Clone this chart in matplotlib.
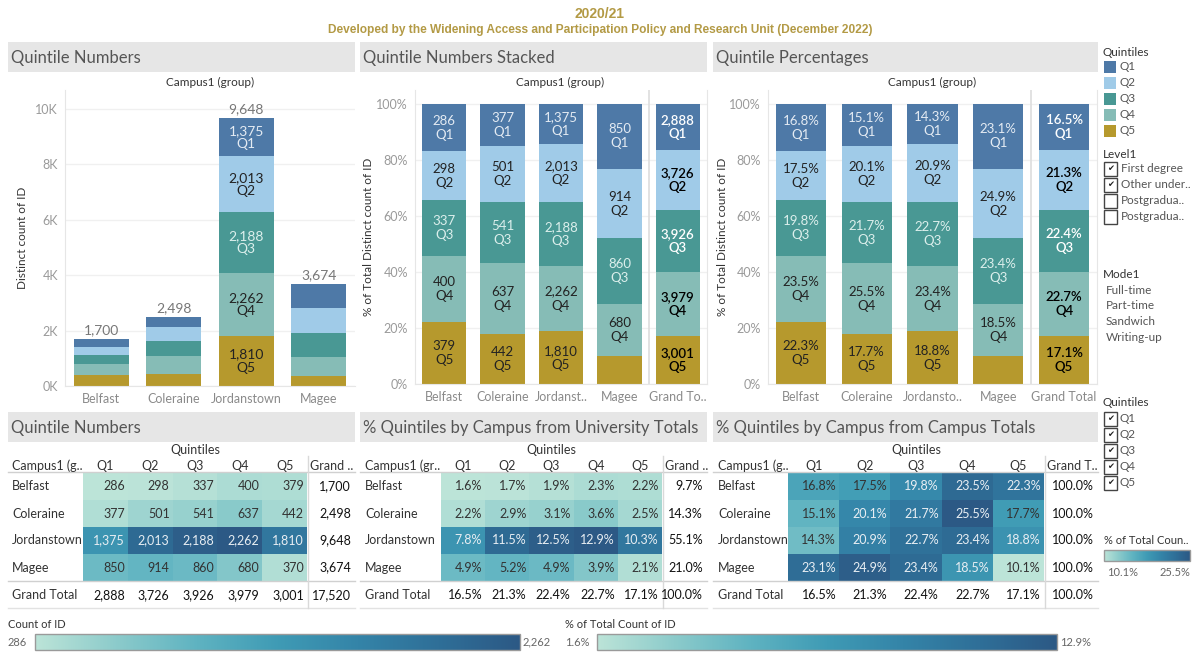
import numpy as np
import matplotlib
matplotlib.use("Agg")
import matplotlib.pyplot as plt
from matplotlib.colors import LinearSegmentedColormap, Normalize
from matplotlib.patches import Rectangle

plt.rcParams['font.family'] = ['Lato', 'DejaVu Sans']

W, H = 1195, 653

# Data
campuses = ['Belfast', 'Coleraine', 'Jordanstown', 'Magee']
quintiles = ['Q1', 'Q2', 'Q3', 'Q4', 'Q5']
q1 = [286, 377, 1375, 850]
q2 = [298, 501, 2013, 914]
q3 = [337, 541, 2188, 860]
q4 = [400, 637, 2262, 680]
q5 = [379, 442, 1810, 370]
campus_totals = [1700, 2498, 9648, 3674]
quintile_totals = [2888, 3726, 3926, 3979, 3001]
grand_total = 17520

level_items = ['First degree', 'Other under..', 'Postgradua..', 'Postgradua..']
level_checked = [True, True, False, False]
mode_items = ['Full-time', 'Part-time', 'Sandwich', 'Writing-up']

q_colors = ['#4e79a7', '#a0cbe8', '#499894', '#86bcb6', '#b6992d']
q_text = ['#e4ebf3', '#222222', '#dcefec', '#222222', '#222222']
q_text_bold = ['#ffffff', '#000000', '#ffffff', '#000000', '#000000']

cmap = LinearSegmentedColormap.from_list(
    'blueteal', ['#bce4d8', '#8ccbcb', '#5fb3c1', '#3f9bb5', '#3484a8', '#2f6f98', '#2c5985'])

counts = np.array([q1, q2, q3, q4, q5]).T          # campus x quintile
pct_campus = counts / np.array(campus_totals)[:, None] * 100
pct_univ = counts / grand_total * 100
gt_pct = np.array(quintile_totals) / grand_total * 100

fig = plt.figure(figsize=(W / 100, H / 100), dpi=100)

ov = fig.add_axes([0, 0, 1, 1])
ov.set_xlim(0, W)
ov.set_ylim(H, 0)
ov.axis('off')


def px_axes(x, y, w, h):
    return fig.add_axes([x / W, 1 - (y + h) / H, w / W, h / H])


# titles
gold = '#b39a45'
ov.text(600, 14, '2020/21', ha='center', va='center', fontsize=10, fontweight='bold',
        color=gold, family=['Liberation Sans'])
ov.text(600, 30, 'Developed by the Widening Access and Participation Policy and Research Unit (December 2022)',
        ha='center', va='center', fontsize=8.6, fontweight='bold', color=gold,
        family=['Liberation Sans'])

# panel headers
headers = [(8, 42, 347, 'Quintile Numbers'), (360, 42, 347, 'Quintile Numbers Stacked'),
           (713, 42, 385, 'Quintile Percentages'), (8, 412, 347, 'Quintile Numbers'),
           (360, 412, 347, '% Quintiles by Campus from University Totals'),
           (713, 412, 385, '% Quintiles by Campus from Campus Totals')]
for hx, hy, hw, ht in headers:
    ov.add_patch(Rectangle((hx, hy), hw, 30, color='#e6e6e6', lw=0))
    ov.text(hx + 3, hy + 16, ht, ha='left', va='center', fontsize=12, color='#555555')

for cx in [210, 560, 932]:
    ov.text(cx, 82, 'Campus1 (group)', ha='center', va='center', fontsize=8.5, color='#333333')


def style_bar_axes(ax, labels, yticks, yticklabels, ylabel, label_x):
    ax.set_facecolor('none')
    for s in ['top', 'right']:
        ax.spines[s].set_visible(False)
    ax.spines['left'].set_color('#e6e6e6')
    ax.spines['bottom'].set_color('#e6e6e6')
    ax.set_xticks(range(len(labels)))
    ax.set_xticklabels(labels, color='#8a8a8a', fontsize=9)
    ax.set_yticks(yticks)
    ax.set_yticklabels(yticklabels, color='#9a9a9a', fontsize=9)
    ax.tick_params(length=0, pad=5)
    ax.grid(axis='y', color='#f0f0f0', lw=1)
    ax.set_axisbelow(True)
    ax.set_ylabel(ylabel, fontsize=8.5, color='#333333')
    ax.yaxis.set_label_coords(label_x, 0.5)


# Chart 1: counts
ax1 = px_axes(65, 90, 290, 296)
x = np.arange(len(campuses))
bottom = np.zeros(len(campuses))
for qi in reversed(range(5)):
    vals = counts[:, qi]
    ax1.bar(x, vals, 0.76, bottom=bottom, color=q_colors[qi], lw=0)
    for ci in range(len(campuses)):
        if vals[ci] > 1000:
            ax1.text(x[ci], bottom[ci] + vals[ci] / 2, f'{vals[ci]:,}\n{quintiles[qi]}',
                     ha='center', va='center', fontsize=10, color=q_text[qi], linespacing=1.15)
    bottom += vals
for ci in range(len(campuses)):
    ax1.annotate(f'{campus_totals[ci]:,}', (x[ci], campus_totals[ci]), xytext=(0, 2),
                 textcoords='offset points', ha='center', va='bottom', fontsize=10, color='#777777')
ax1.set_xlim(-0.5, 3.5)
ax1.set_ylim(0, 10670)
style_bar_axes(ax1, campuses, np.arange(0, 10001, 2000),
               [f'{v // 1000}K' for v in range(0, 10001, 2000)],
               'Distinct count of ID', (28 - 65) / 290)


def pct_chart(ax, labels, label_fn, ylabel_x):
    heights = np.vstack([pct_campus, gt_pct[None, :]])
    raw = np.vstack([counts, np.array(quintile_totals)[None, :]])
    xs = np.arange(heights.shape[0])
    bot = np.zeros(len(xs))
    for qi in reversed(range(5)):
        vals = heights[:, qi]
        ax.bar(xs, vals, 0.76, bottom=bot, color=q_colors[qi], lw=0)
        for ci in range(len(xs)):
            if vals[ci] > 12:
                gt = ci == len(xs) - 1
                ax.text(xs[ci], bot[ci] + vals[ci] / 2,
                        f'{label_fn(raw[ci, qi], vals[ci])}\n{quintiles[qi]}',
                        ha='center', va='center', fontsize=9.5, linespacing=1.2,
                        color=q_text_bold[qi] if gt else q_text[qi],
                        fontweight='semibold' if gt else 'normal')
        bot += vals
    ax.axvline(len(xs) - 1.5, color='#dddddd', lw=1.2)
    ax.set_xlim(-0.5, len(xs) - 0.5)
    ax.set_ylim(0, 105)
    style_bar_axes(ax, labels, np.arange(0, 101, 20), [f'{v}%' for v in range(0, 101, 20)],
                   '% of Total Distinct count of ID', ylabel_x)
    ax.spines['right'].set_visible(True)
    ax.spines['right'].set_color('#e6e6e6')


ax2 = px_axes(415, 90, 292, 294)
pct_chart(ax2, ['Belfast', 'Coleraine', 'Jordanst..', 'Magee', 'Grand To..'],
          lambda c, p: f'{c:,}', (374 - 415) / 292)
ax3 = px_axes(768, 90, 329, 294)
pct_chart(ax3, ['Belfast', 'Coleraine', 'Jordansto..', 'Magee', 'Grand Total'],
          lambda c, p: f'{p:.1f}%', (728 - 768) / 329)


# Tables
def draw_table(left, label_x, cl, cr, right, values, fmt, gt_col, gt_row, gt_corner,
               hdr_campus, hdr_grand):
    xe = np.linspace(cl, cr, 6)
    ye = np.linspace(473, 581, 5)
    norm = Normalize(values.min(), values.max())
    ov.pcolormesh(xe, ye, values, cmap=cmap, norm=norm, shading='flat')
    ov.text((cl + cr) / 2, 450, 'Quintiles', ha='center', va='center', fontsize=9, color='#333333')
    ov.text(label_x, 466, hdr_campus, ha='left', va='center', fontsize=9, color='#333333')
    ov.text(cr + 3, 466, hdr_grand, ha='left', va='center', fontsize=9, color='#333333')
    for j in range(5):
        ov.text((xe[j] + xe[j + 1]) / 2, 466, quintiles[j], ha='center', va='center',
                fontsize=9, color='#333333')
    for i in range(values.shape[0]):
        yc = (ye[i] + ye[i + 1]) / 2
        ov.text(label_x, yc, campuses[i], ha='left', va='center', fontsize=9, color='#333333')
        for j in range(5):
            light = norm(values[i, j]) > 0.5
            ov.text(xe[j + 1] - 3, yc, fmt(values[i, j]), ha='right', va='center', fontsize=9,
                    color='#e8eef3' if light else '#333333')
        ov.text(right - 4, yc, fmt(gt_col[i]), ha='right', va='center', fontsize=9, color='#111111')
    ov.text(label_x, 595, 'Grand Total', ha='left', va='center', fontsize=9, color='#333333')
    for j in range(5):
        ov.text(xe[j + 1] - 3, 595, fmt(gt_row[j]), ha='right', va='center', fontsize=9,
                color='#111111')
    ov.text(right - 4, 595, fmt(gt_corner), ha='right', va='center', fontsize=9, color='#111111')
    ov.plot([left, right], [472, 472], color='#d0d0d0', lw=1)
    ov.plot([left, right], [581, 581], color='#d0d0d0', lw=1)
    ov.plot([left, right], [608, 608], color='#e2e2e2', lw=1)
    ov.plot([cr + 1, cr + 1], [456, 608], color='#d9d9d9', lw=1)


fmt_int = lambda v: f'{int(round(v)):,}'
fmt_pct = lambda v: f'{v:.1f}%'
draw_table(8, 12, 83, 307, 355, counts, fmt_int, campus_totals, quintile_totals, grand_total,
           'Campus1 (g..', 'Grand ..')
draw_table(360, 365, 441, 662, 707, pct_univ, fmt_pct,
           np.array(campus_totals) / grand_total * 100, gt_pct, 100.0, 'Campus1 (gr..', 'Grand ..')
draw_table(713, 718, 788, 1044, 1098, pct_campus, fmt_pct, [100.0] * 4, gt_pct, 100.0,
           'Campus1 (g..', 'Grand T..')

# colour legends
grad = np.linspace(0, 1, 256)[None, :]
ov.text(8, 625, 'Count of ID', ha='left', va='center', fontsize=8, color='#333333')
ov.imshow(grad, extent=[35, 520, 650, 634], aspect='auto', cmap=cmap)
ov.add_patch(Rectangle((35, 634), 485, 16, fill=False, ec='#9a9a9a', lw=1))
ov.text(8, 642, f'{counts.min():,}', ha='left', va='center', fontsize=8, color='#666666')
ov.text(523, 642, f'{counts.max():,}', ha='left', va='center', fontsize=8, color='#666666')

ov.text(565, 625, '% of Total Count of ID', ha='left', va='center', fontsize=8, color='#333333')
ov.imshow(grad, extent=[597, 1057, 650, 634], aspect='auto', cmap=cmap)
ov.add_patch(Rectangle((597, 634), 460, 16, fill=False, ec='#9a9a9a', lw=1))
ov.text(565, 642, f'{pct_univ.min():.1f}%', ha='left', va='center', fontsize=8, color='#666666')
ov.text(1060, 642, f'{pct_univ.max():.1f}%', ha='left', va='center', fontsize=8, color='#666666')

ov.text(1104, 540, '% of Total Coun..', ha='left', va='center', fontsize=8, color='#333333')
ov.imshow(grad, extent=[1104, 1190, 561, 550], aspect='auto', cmap=cmap)
ov.add_patch(Rectangle((1104, 550), 86, 11, fill=False, ec='#9a9a9a', lw=1))
ov.text(1107, 572, f'{pct_campus.min():.1f}%', ha='left', va='center', fontsize=8, color='#666666')
ov.text(1190, 572, f'{pct_campus.max():.1f}%', ha='right', va='center', fontsize=8, color='#666666')

# right-hand legends / filters
ov.text(1103, 53, 'Quintiles', ha='left', va='center', fontsize=8.5, color='#333333')
for k, q in enumerate(quintiles):
    yy = 67 + 16 * k
    ov.add_patch(Rectangle((1104, yy - 6), 12, 12, color=q_colors[k], lw=0))
    ov.text(1120, yy, q, ha='left', va='center', fontsize=8.5, color='#555555')


def checkbox(yy, checked, label, lx):
    ov.add_patch(Rectangle((1104, yy - 7), 13, 14, fill=False, ec='#444444', lw=1))
    if checked:
        ov.text(1110.5, yy, '\u2714', ha='center', va='center', fontsize=6, color='#222222',
                family=['DejaVu Sans'])
    ov.text(lx, yy, label, ha='left', va='center', fontsize=8.5, color='#555555')


ov.text(1103, 154, 'Level1', ha='left', va='center', fontsize=8.5, color='#333333')
for k, item in enumerate(level_items):
    checkbox(169 + 16 * k, level_checked[k], item, 1121)

ov.text(1103, 275, 'Mode1', ha='left', va='center', fontsize=8.5, color='#333333')
for k, item in enumerate(mode_items):
    ov.text(1106, 290 + 15.7 * k, item, ha='left', va='center', fontsize=8.5, color='#555555')

ov.text(1103, 402, 'Quintiles', ha='left', va='center', fontsize=8.5, color='#333333')
for k, q in enumerate(quintiles):
    checkbox(419 + 16 * k, True, q, 1120)

ov.set_xlim(0, W)
ov.set_ylim(H, 0)

fig.savefig('out.png', dpi=100)
